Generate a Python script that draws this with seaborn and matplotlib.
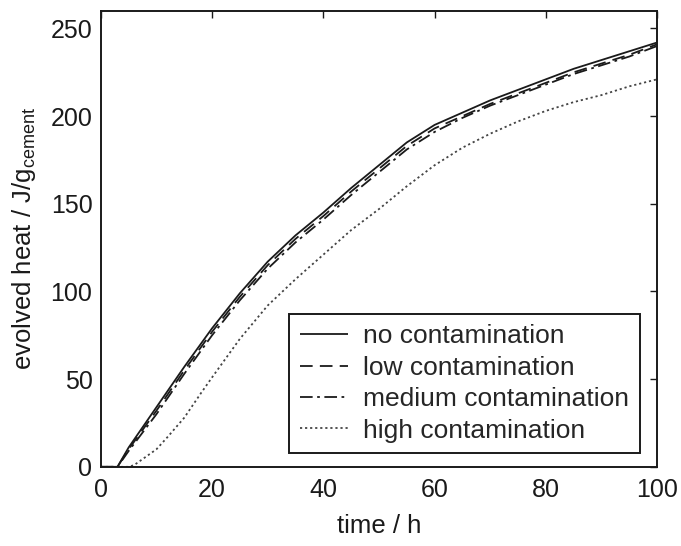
import matplotlib
matplotlib.use("Agg")
import matplotlib.pyplot as plt
import seaborn as sns

time_h = [0, 3, 5, 10, 15, 20, 25, 30, 35, 40, 45, 50, 55, 60, 65, 70, 75, 80, 85, 90, 95, 100]
no_cont = [0, 0, 11, 34, 57, 79, 99, 117, 132, 145, 159, 172, 185, 195, 202, 209, 215, 221, 227, 232, 237, 242]
low_cont = [0, 0, 10, 32, 55, 77, 97, 115, 130, 143, 157, 170, 183, 193, 200, 207, 213, 219, 225, 230, 235, 241]
med_cont = [0, 0, 9, 30, 53, 75, 95, 113, 128, 141, 155, 168, 181, 191, 199, 206, 212, 218, 224, 229, 234, 240]
high_time = [0, 5, 6, 10, 12, 15, 18, 20, 25, 30, 35, 40, 45, 50, 55, 60, 65, 70, 75, 80, 85, 90, 95, 100]
high_cont = [0, 0, 1, 10, 17, 28, 42, 51, 73, 92, 107, 121, 135, 147, 160, 172, 182, 190, 197, 203, 208, 212, 217, 221]

labels = ["no contamination", "low contamination", "medium contamination", "high contamination"]

sns.set_theme(style="white")
plt.rcParams['font.family'] = ['Liberation Sans', 'DejaVu Sans']
plt.rcParams['mathtext.fontset'] = 'custom'
plt.rcParams['mathtext.rm'] = 'Liberation Sans'
plt.rcParams['mathtext.it'] = 'Liberation Sans'

fig = plt.figure(figsize=(6.81, 5.46), dpi=100)
ax = fig.add_axes([0.148, 0.145, 0.817, 0.835])

series = [
    (time_h, no_cont, labels[0], (0, ()), "#1a1a1a"),
    (time_h, low_cont, labels[1], (0, (7, 4)), "#1a1a1a"),
    (time_h, med_cont, labels[2], (0, (7, 2.5, 1.5, 2.5)), "#1a1a1a"),
    (high_time, high_cont, labels[3], (0, (1.2, 1.6)), "#444444"),
]
for xs, ys, lab, ls, col in series:
    sns.lineplot(x=xs, y=ys, ax=ax, label=lab, color=col, linestyle=ls, linewidth=1.3)

ax.set_xlim(0, 100)
ax.set_ylim(0, 260)
ax.set_xticks([0, 20, 40, 60, 80, 100])
ax.set_yticks([0, 50, 100, 150, 200, 250])
ax.tick_params(axis='both', direction='in', length=5, width=1, top=True, right=True,
               labelsize=18, colors='#1a1a1a')
ax.tick_params(axis='x', pad=8)
ax.tick_params(axis='y', pad=6)
for sp in ax.spines.values():
    sp.set_visible(True)
    sp.set_color('#1a1a1a')
    sp.set_linewidth(1.4)

ax.set_xlabel("time / h", fontsize=18.5, color='#1a1a1a', labelpad=9)
ax.set_ylabel(r"evolved heat / J/g$_{\mathrm{cement}}$", fontsize=18.5, color='#1a1a1a', labelpad=9)

leg = ax.legend(loc='lower right', bbox_to_anchor=(0.969, 0.03), fontsize=19,
                frameon=True, fancybox=False, edgecolor='#1a1a1a',
                handlelength=1.8, handletextpad=0.6, labelspacing=0.28,
                borderpad=0.4, borderaxespad=0.0)
leg.get_frame().set_linewidth(1.4)
leg.get_frame().set_alpha(1)

fig.savefig("out.png", dpi=100, facecolor='white')
